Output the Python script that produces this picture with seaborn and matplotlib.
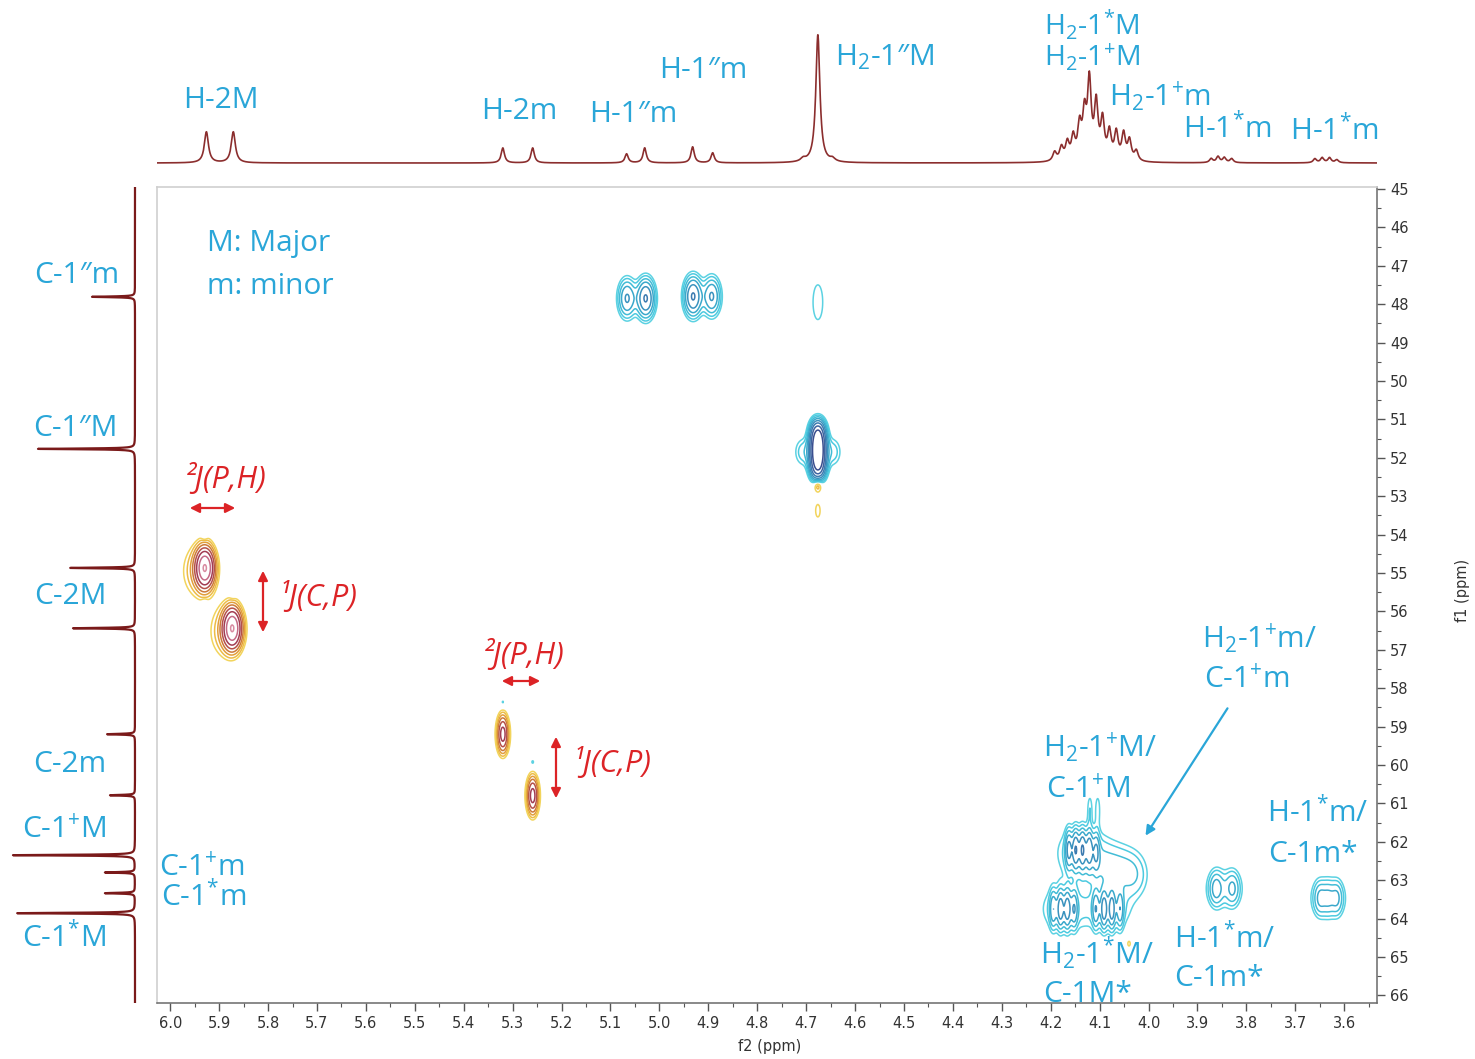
import numpy as np
import matplotlib
matplotlib.use("Agg")
import matplotlib.pyplot as plt
import seaborn as sns
from matplotlib.ticker import MultipleLocator, FormatStrFormatter

# ---------------- data ----------------
# 1H trace (f2): line positions (ppm), heights, half widths (ppm)
h_ppm = [5.926, 5.871, 5.320, 5.259, 5.067, 5.030, 4.932, 4.891,
         4.706, 4.676, 4.646,
         4.192, 4.178, 4.166, 4.154, 4.141, 4.131, 4.121, 4.107, 4.094,
         4.080, 4.066, 4.051, 4.039, 4.025,
         3.872, 3.858, 3.845, 3.830, 3.660, 3.645, 3.630, 3.615]
h_height = [31, 31, 15, 15, 9, 15, 16, 10,
            3, 128, 3,
            9, 13, 17, 22, 32, 42, 76, 54, 38,
            27, 27, 26, 20, 10,
            4, 6, 5, 4, 4, 5, 5, 3]
h_width = [0.005, 0.005, 0.004, 0.004, 0.004, 0.004, 0.004, 0.004,
           0.006, 0.005, 0.006,
           0.0045, 0.0045, 0.0045, 0.0045, 0.0045, 0.0045, 0.0045, 0.0045,
           0.0045, 0.0045, 0.0045, 0.0045, 0.0045, 0.0045,
           0.004, 0.004, 0.004, 0.004, 0.004, 0.004, 0.004, 0.004]

# 13C trace (f1): line positions (ppm), heights, half widths (ppm)
c_ppm = [47.81, 51.77, 54.87, 56.44, 59.20, 60.79, 62.35, 62.80, 63.34, 63.86]
c_height = [43, 97, 65, 62, 28, 25, 122, 30, 30, 118]
c_width = [0.012, 0.012, 0.012, 0.012, 0.012, 0.012, 0.012, 0.012, 0.012, 0.012]

# HSQC cross peaks: f2 (ppm), f1 (ppm), signed intensity, widths in f2 and f1
xp_h = [5.066, 5.028, 4.931, 4.893,
        4.676,
        4.676, 4.676, 4.676, 4.676, 4.706, 4.646,
        5.930, 5.930, 5.872, 5.320, 5.259,
        4.163, 4.149, 4.135, 4.121, 4.107, 4.135, 4.070, 4.030,
        4.120, 4.104,
        4.195, 4.180, 4.166, 4.152, 4.172,
        4.108, 4.091, 4.075, 4.058, 4.083,
        3.862, 3.828, 3.845,
        3.650, 3.633, 3.615, 3.633,
        5.929, 5.942, 5.873, 5.886, 5.320, 5.259,
        4.676, 4.676, 4.040]
xp_c = [47.85, 47.85, 47.80, 47.80,
        47.95,
        51.35, 51.65, 51.95, 52.25, 51.85, 51.85,
        54.00, 55.80, 55.50, 58.37, 59.93,
        62.20, 62.20, 62.20, 62.20, 62.25, 62.30, 62.65, 62.90,
        61.15, 61.15,
        63.75, 63.75, 63.75, 63.75, 63.75,
        63.75, 63.75, 63.75, 63.75, 63.75,
        63.22, 63.22, 63.22,
        63.47, 63.47, 63.47, 63.47,
        54.87, 54.95, 56.44, 56.52, 59.20, 60.80,
        52.68, 53.38, 64.65]
xp_amp = [7, 11, 11, 7,
          1.4,
          22, 34, 34, 22, 2.2, 2.2,
          1.3, 1.2, 1.3, 1.2, 1.2,
          6, 8, 8, 7, 5, 3.2, 2.8, 2.0,
          1.5, 1.5,
          4.5, 6.5, 6.5, 4.5, 2.8,
          4.5, 6.5, 6.5, 4.5, 2.8,
          4, 3.2, 2.0,
          3.2, 2.6, 3.2, 2.0,
          -26, -2.6, -26, -2.6, -13, -13,
          -3.0, -1.5, -1.3]
xp_sh = [0.011, 0.011, 0.011, 0.011,
         0.012,
         0.009, 0.009, 0.009, 0.009, 0.012, 0.012,
         0.004, 0.004, 0.004, 0.004, 0.004,
         0.0045, 0.0045, 0.0045, 0.0045, 0.0045, 0.033, 0.030, 0.020,
         0.004, 0.004,
         0.0045, 0.0045, 0.0045, 0.0045, 0.030,
         0.0045, 0.0045, 0.0045, 0.0045, 0.030,
         0.009, 0.009, 0.025,
         0.008, 0.008, 0.008, 0.025,
         0.011, 0.022, 0.011, 0.022, 0.007, 0.007,
         0.006, 0.005, 0.004]
xp_sc = [0.30, 0.30, 0.30, 0.30,
         0.55,
         0.20, 0.20, 0.20, 0.20, 0.25, 0.25,
         0.10, 0.08, 0.10, 0.08, 0.08,
         0.30, 0.30, 0.30, 0.30, 0.30, 0.45, 0.40, 0.40,
         0.30, 0.30,
         0.30, 0.30, 0.30, 0.30, 0.40,
         0.30, 0.30, 0.30, 0.30, 0.40,
         0.28, 0.28, 0.35,
         0.28, 0.28, 0.28, 0.35,
         0.30, 0.45, 0.30, 0.45, 0.28, 0.28,
         0.15, 0.18, 0.10]

contour_levels = [1.0, 1.6, 2.6, 4.1, 6.6, 10.5, 17.0, 27.0]
pos_colors = ['#5CD2E2', '#4CCAE0', '#42BCD6', '#3AA8CB', '#3A92BE',
              '#3C7BB0', '#3E64A0', '#3A4E8E']
neg_colors = ['#F2D45C', '#EDBC47', '#E29E3A', '#CC7A3A', '#B5504A',
              '#A23C52', '#C46A86', '#D88CA2']

f2_ticks = np.round(np.arange(3.6, 6.01, 0.1), 1)
f1_ticks = np.arange(45, 67, 1)

BLUE = '#2AA6D8'
RED = '#DC2326'
TRACE = '#8B2E2E'

# ---------------- style ----------------
sns.set_theme(style='white')
plt.rcParams['font.family'] = ['Open Sans', 'DejaVu Sans']
plt.rcParams['mathtext.fontset'] = 'custom'
plt.rcParams['mathtext.rm'] = 'Open Sans'
plt.rcParams['mathtext.it'] = 'Open Sans:italic'
plt.rcParams['mathtext.default'] = 'regular'

W, H = 1475, 1059
fig = plt.figure(figsize=(W / 100, H / 100), dpi=100)
fig.patch.set_facecolor('white')


def fx(x):
    return x / W


def fy(y):
    return 1 - y / H


X0, X1, Y0, Y1 = 157, 1377, 187, 1003
ax = fig.add_axes([fx(X0), fy(Y1), fx(X1) - fx(X0), fy(Y0) - fy(Y1)])
ax_top = fig.add_axes([fx(X0), fy(168), fx(X1) - fx(X0), fy(25) - fy(168)])
ax_left = fig.add_axes([fx(10), fy(Y1), fx(140) - fx(10), fy(Y0) - fy(Y1)])

XLIM = (6.027, 3.533)
YLIM = (66.2, 44.95)

# ---------------- 2D map ----------------
h_axis = np.linspace(3.50, 6.06, 2000)
c_axis = np.linspace(44.8, 66.4, 1200)
Z = np.zeros((c_axis.size, h_axis.size))
for h, c, a, sh, sc in zip(xp_h, xp_c, xp_amp, xp_sh, xp_sc):
    i0, i1 = np.searchsorted(c_axis, [c - 6 * sc, c + 6 * sc])
    j0, j1 = np.searchsorted(h_axis, [h - 6 * sh, h + 6 * sh])
    gh = np.exp(-0.5 * ((h_axis[j0:j1] - h) / sh) ** 2)
    gc = np.exp(-0.5 * ((c_axis[i0:i1] - c) / sc) ** 2)
    Z[i0:i1, j0:j1] += a * np.outer(gc, gh)

HH, CC = np.meshgrid(h_axis, c_axis)
ax.contour(HH, CC, Z, levels=contour_levels, colors=pos_colors, linewidths=1.1)
neg_levels = [-v for v in contour_levels[::-1]]
ax.contour(HH, CC, Z, levels=neg_levels, colors=neg_colors[::-1], linewidths=1.1)

ax.set_xlim(*XLIM)
ax.set_ylim(*YLIM)
ax.set_xticks(f2_ticks)
ax.xaxis.set_major_formatter(FormatStrFormatter('%.1f'))
ax.xaxis.set_minor_locator(MultipleLocator(0.05))
ax.set_yticks(f1_ticks)
ax.yaxis.set_minor_locator(MultipleLocator(0.5))
ax.yaxis.tick_right()
ax.tick_params(axis='both', which='major', direction='out', length=6, width=1,
               color='#555555', labelsize=10.5, labelcolor='#333333',
               bottom=True, right=True, left=False, top=False)
ax.tick_params(axis='both', which='minor', direction='out', length=3, width=0.8,
               color='#555555', bottom=True, right=True, left=False, top=False)
for side in ['top', 'left']:
    ax.spines[side].set_color('#CFCFCF')
    ax.spines[side].set_linewidth(1.2)
for side in ['bottom', 'right']:
    ax.spines[side].set_color('#6A6A6A')
    ax.spines[side].set_linewidth(1.1)
ax.set_xlabel('')
ax.set_ylabel('')
fig.text(fx(770), fy(1047), 'f2 (ppm)', ha='center', va='center',
         fontsize=10.5, color='#333333', family='DejaVu Sans')
fig.text(fx(1463), fy(590), 'f1 (ppm)', ha='center', va='center', rotation=90,
         fontsize=10.5, color='#333333', family='DejaVu Sans')
for lab in ax.get_xticklabels() + ax.get_yticklabels():
    lab.set_family('DejaVu Sans')

# ---------------- 1D traces ----------------
hx = np.linspace(3.50, 6.06, 6000)
h_trace = np.zeros_like(hx)
for p, a, w in zip(h_ppm, h_height, h_width):
    h_trace += a * w ** 2 / ((hx - p) ** 2 + w ** 2)
sns.lineplot(x=hx, y=h_trace, ax=ax_top, color=TRACE, linewidth=1.2)
ax_top.set_xlim(*XLIM)
ax_top.set_ylim(-5, 138)
ax_top.axis('off')

cy = np.linspace(44.95, 66.2, 12000)
c_trace = np.zeros_like(cy)
for p, a, w in zip(c_ppm, c_height, c_width):
    c_trace += a * w ** 2 / ((cy - p) ** 2 + w ** 2)
sns.lineplot(x=c_trace, y=cy, ax=ax_left, color='#7A1A1A', linewidth=1.6,
             orient='y')
ax_left.set_xlim(125, -5)
ax_left.set_ylim(*YLIM)
ax_left.axis('off')

# ---------------- labels ----------------
LSIZE = 21.5


def label(x, y, s, size=LSIZE, color=BLUE, ha='center', **kw):
    fig.text(fx(x), fy(y), s, ha=ha, va='center', fontsize=size, color=color, **kw)


# 1H assignments
label(221, 100, 'H-2M')
label(519, 112, 'H-2m')
label(633, 114, 'H-1″m')
label(703, 71, 'H-1″m')
label(885, 57, 'H$_2$-1″M')
label(1092, 25, 'H$_2$-1$^{*}$M', size=20.5)
label(1092, 57, 'H$_2$-1$^{+}$M', size=20.5)
label(1160, 97, 'H$_2$-1$^{+}$m')
label(1227, 128, 'H-1$^{*}$m')
label(1334, 131, 'H-1$^{*}$m')

# 13C assignments
label(77, 276, 'C-1″m')
label(75, 428, 'C-1″M')
label(70, 596, 'C-2M')
label(70, 764, 'C-2m')
label(64, 830, 'C-1$^{+}$M')
label(202, 868, 'C-1$^{+}$m')
label(204, 896, 'C-1$^{*}$m')
label(64, 937, 'C-1$^{*}$M')

label(207, 244, 'M: Major', ha='left')
label(207, 286, 'm: minor', ha='left')

# cross-peak assignments
label(1260, 639, 'H$_2$-1$^{+}$m/')
label(1247, 680, 'C-1$^{+}$m')
label(1100, 748, 'H$_2$-1$^{+}$M/')
label(1088, 790, 'C-1$^{+}$M')
label(1318, 812, 'H-1$^{*}$m/')
label(1313, 854, 'C-1m*')
label(1097, 953, 'H$_2$-1$^{*}$M/')
label(1088, 994, 'C-1M*')
label(1225, 938, 'H-1$^{*}$m/')
label(1219, 979, 'C-1m*')

# coupling annotations
RSIZE = 22
label(226, 479, '²J(P,H)', size=RSIZE, color=RED, style='italic')
label(318, 597, '¹J(C,P)', size=RSIZE, color=RED, style='italic')
label(524, 655, '²J(P,H)', size=RSIZE, color=RED, style='italic')
label(612, 763, '¹J(C,P)', size=RSIZE, color=RED, style='italic')


def arrow(x0, y0, x1, y1, color, style):
    fig.add_artist(matplotlib.patches.FancyArrowPatch(
        (fx(x0), fy(y0)), (fx(x1), fy(y1)), transform=fig.transFigure,
        arrowstyle=style, mutation_scale=14, color=color, linewidth=1.6))


arrow(187, 508, 238, 508, RED, '<|-|>')
arrow(263, 568, 263, 635, RED, '<|-|>')
arrow(499, 681, 543, 681, RED, '<|-|>')
arrow(556, 734, 556, 801, RED, '<|-|>')
arrow(1229, 706, 1144, 838, BLUE, '-|>')

fig.savefig('out.png', dpi=100, facecolor='white')
